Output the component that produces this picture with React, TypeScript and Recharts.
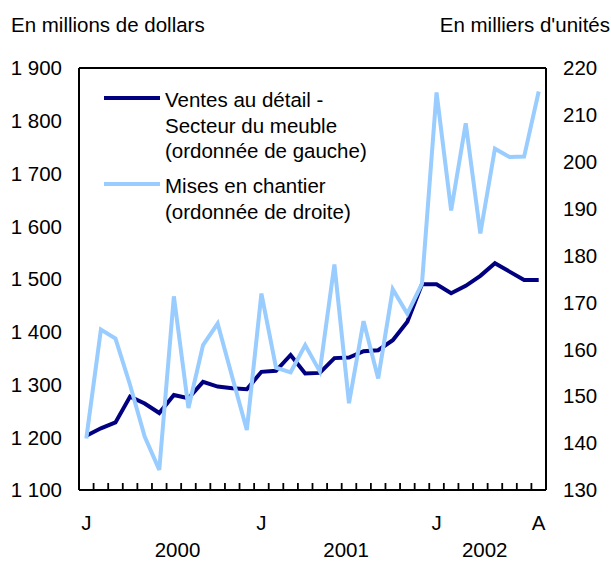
import React from "react";
import {
  LineChart,
  Line,
  XAxis,
  YAxis,
  ReferenceLine,
  Legend,
} from "recharts";

// ---- data ----
const months = [
  "2000-01", "2000-02", "2000-03", "2000-04", "2000-05", "2000-06",
  "2000-07", "2000-08", "2000-09", "2000-10", "2000-11", "2000-12",
  "2001-01", "2001-02", "2001-03", "2001-04", "2001-05", "2001-06",
  "2001-07", "2001-08", "2001-09", "2001-10", "2001-11", "2001-12",
  "2002-01", "2002-02", "2002-03", "2002-04", "2002-05", "2002-06",
  "2002-07", "2002-08",
];

// Ventes au détail - Secteur du meuble (millions $)
const retailSales = [
  1203, 1217, 1228, 1277, 1264, 1246, 1280, 1274, 1305, 1296, 1293, 1291,
  1324, 1326, 1356, 1321, 1322, 1350, 1351, 1363, 1365, 1384, 1419, 1490,
  1490, 1473, 1487, 1506, 1530, 1514, 1498, 1498,
];

// Mises en chantier (milliers d'unités)
const housingStarts = [
  141.0, 164.2, 162.3, 152.4, 141.4, 134.3, 171.3, 147.5, 160.9, 165.5, 154.1, 142.8,
  171.9, 156.1, 155.1, 160.9, 155.3, 178.1, 148.5, 166.0, 153.8, 172.8, 167.6, 174.0,
  214.8, 189.6, 208.2, 184.7, 202.8, 201.0, 201.1, 215.0,
];

const seriesNames = [
  "Ventes au détail -\nSecteur du meuble\n(ordonnée de gauche)",
  "Mises en chantier\n(ordonnée de droite)",
];

const monthTickIndex = [0, 12, 24, 31];
const monthTickLabels = ["J", "J", "J", "A"];
const yearLabels = ["2000", "2001", "2002"];

const leftTicks = [1100, 1200, 1300, 1400, 1500, 1600, 1700, 1800, 1900];
const rightTicks = [130, 140, 150, 160, 170, 180, 190, 200, 210, 220];

const leftTitle = "En millions de dollars";
const rightTitle = "En milliers d'unités";

// ---- table built from the arrays ----
const data = months.map((m, i) => ({
  month: m,
  t: i + 0.5,
  retail: retailSales[i],
  starts: housingStarts[i],
}));

// axis config (category units)
const boundaryTicks = Array.from({ length: months.length + 1 }, (_, i) => i);
const monthTickPos = monthTickIndex.map((i) => i + 0.5);
const yearTickPos = [6.75, 18.3, 27.8];

const FONT = "'Liberation Sans', Arial, Helvetica, sans-serif";
const FS = 20.5;
const DARK = "#000080";
const LIGHT = "#99CCFF";

const fmtLeft = (v: number) =>
  v >= 1000 ? `${Math.floor(v / 1000)} ${String(v % 1000).padStart(3, "0")}` : `${v}`;

const tickStyle = { fill: "#000", fontSize: FS, fontFamily: FONT };
const blank = () => "";

const LegendContent = (props: any) => {
  const payload = [...(props.payload || [])].sort((a: any, b: any) =>
    String(a.dataKey) < String(b.dataKey) ? -1 : 1
  );
  return (
    <div style={{ fontFamily: FONT, fontSize: FS, lineHeight: "25.5px", color: "#000" }}>
      {payload.map((p: any, idx: number) => (
        <div
          key={idx}
          style={{ display: "flex", alignItems: "flex-start", marginBottom: idx === 0 ? 9.5 : 0 }}
        >
          <div
            style={{
              width: 56,
              height: 4,
              background: p.color,
              marginTop: 8.5,
              marginRight: 5,
              flex: "none",
            }}
          />
          <div style={{ whiteSpace: "nowrap" }}>
            {String(p.value)
              .split("\n")
              .map((l: string, j: number) => (
                <div key={j}>{l}</div>
              ))}
          </div>
        </div>
      ))}
    </div>
  );
};

export default function App() {
  return (
    <div style={{ position: "absolute", left: 0, top: 0, width: 611, height: 561, background: "#fff" }}>
      <div
        style={{
          position: "absolute",
          left: 11,
          top: 12,
          fontFamily: FONT,
          fontSize: FS,
          lineHeight: "26px",
          whiteSpace: "nowrap",
          zIndex: 2,
        }}
      >
        {leftTitle}
      </div>
      <div
        style={{
          position: "absolute",
          right: 1,
          top: 12,
          fontFamily: FONT,
          fontSize: FS,
          lineHeight: "26px",
          whiteSpace: "nowrap",
          zIndex: 2,
        }}
      >
        {rightTitle}
      </div>
      <LineChart
        width={611}
        height={561}
        data={data}
        margin={{ top: 68, right: 0, bottom: 0, left: 0 }}
      >
        {/* boundary tick marks, pointing inward */}
        <XAxis
          xAxisId="x"
          type="number"
          dataKey="t"
          domain={[0, months.length]}
          ticks={boundaryTicks}
          interval={0}
          mirror
          tickSize={7}
          tickFormatter={blank}
          tick={tickStyle}
          axisLine={{ stroke: "#000", strokeWidth: 2 }}
          tickLine={{ stroke: "#000", strokeWidth: 1.8 }}
        />
        <XAxis
          xAxisId="lab"
          type="number"
          dataKey="t"
          domain={[0, months.length]}
          ticks={monthTickPos}
          interval={0}
          height={30}
          axisLine={false}
          tickLine={false}
          tickSize={0}
          tickMargin={25}
          tick={tickStyle}
          tickFormatter={(v: number) => {
            const k = monthTickPos.indexOf(v);
            return k >= 0 ? monthTickLabels[k] : "";
          }}
        />
        <XAxis
          xAxisId="yr"
          type="number"
          dataKey="t"
          domain={[0, months.length]}
          ticks={yearTickPos}
          interval={0}
          height={41}
          axisLine={false}
          tickLine={false}
          tickSize={0}
          tickMargin={22}
          tick={tickStyle}
          tickFormatter={(v: number) => {
            const k = yearTickPos.indexOf(v);
            return k >= 0 ? yearLabels[k] : "";
          }}
        />
        <YAxis
          yAxisId="L"
          orientation="left"
          width={79}
          domain={[1100, 1900]}
          ticks={leftTicks}
          interval={0}
          tickSize={0}
          tickMargin={17}
          tick={tickStyle}
          tickFormatter={fmtLeft}
          axisLine={{ stroke: "#000", strokeWidth: 2 }}
          tickLine={false}
        />
        <YAxis
          yAxisId="L2"
          orientation="left"
          mirror
          domain={[1100, 1900]}
          ticks={leftTicks}
          interval={0}
          tickSize={6}
          tick={tickStyle}
          tickFormatter={blank}
          axisLine={false}
          tickLine={{ stroke: "#000", strokeWidth: 1.8 }}
        />
        <YAxis
          yAxisId="R"
          orientation="right"
          width={65}
          domain={[130, 220]}
          ticks={rightTicks}
          interval={0}
          tickSize={0}
          tickMargin={17}
          tick={tickStyle}
          axisLine={{ stroke: "#000", strokeWidth: 2 }}
          tickLine={false}
        />
        <YAxis
          yAxisId="R2"
          orientation="right"
          mirror
          domain={[130, 220]}
          ticks={rightTicks}
          interval={0}
          tickSize={6}
          tick={tickStyle}
          tickFormatter={blank}
          axisLine={false}
          tickLine={{ stroke: "#000", strokeWidth: 1.8 }}
        />
        <ReferenceLine
          xAxisId="x"
          yAxisId="L"
          y={1900}
          stroke="#000"
          strokeWidth={2}
        />
        <Line
          xAxisId="x"
          yAxisId="L"
          type="linear"
          dataKey="retail"
          name={seriesNames[0]}
          stroke={DARK}
          strokeWidth={4}
          dot={false}
          activeDot={false}
          isAnimationActive={false}
        />
        <Line
          xAxisId="x"
          yAxisId="R"
          type="linear"
          dataKey="starts"
          name={seriesNames[1]}
          stroke={LIGHT}
          strokeWidth={4}
          dot={false}
          activeDot={false}
          isAnimationActive={false}
        />
        <Legend
          layout="vertical"
          align="center"
          verticalAlign="middle"
          itemSorter="dataKey"
          content={<LegendContent />}
          wrapperStyle={{ position: "absolute", left: 104, top: 87, width: "auto", height: "auto" }}
        />
      </LineChart>
    </div>
  );
}
